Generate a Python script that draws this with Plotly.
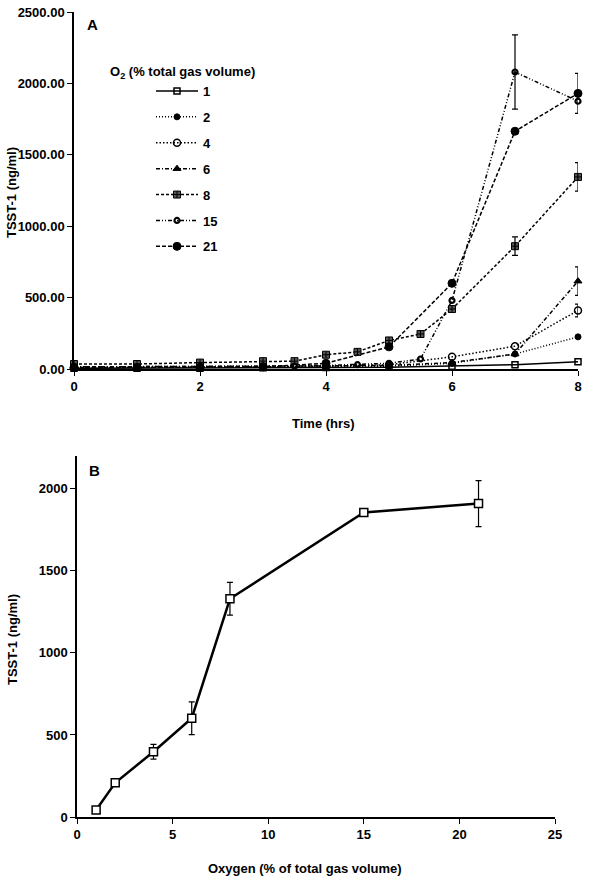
import plotly.graph_objects as go

# ---------------- Data ----------------
t_hourly = [0, 1, 2, 3, 4, 5, 6, 7, 8]
t_half = [0, 1, 2, 3, 3.5, 4, 4.5, 5, 5.5, 6, 7, 8]

o2_1 = [5, 5, 5, 8, 10, 12, 20, 30, 50]
o2_2 = [10, 10, 12, 12, 15, 20, 40, 105, 225]
o2_4 = [10, 10, 12, 15, 20, 30, 85, 160, 410]
o2_6 = [15, 15, 18, 20, 22, 25, 45, 105, 615]
o2_8 = [35, 35, 45, 55, 55, 100, 120, 200, 245, 420, 860, 1345]
o2_15 = [15, 15, 18, 20, 20, 25, 30, 40, 70, 480, 2080, 1875]
o2_21 = [10, 10, 12, 15, 40, 155, 600, 1665, 1930]

# error bars (time, value, error)
err_4 = ([8], [410], [45])
err_6 = ([8], [615], [100])
err_8 = ([7, 8], [860, 1345], [65, 100])
err_15 = ([7], [2080], [260])
err_21 = ([8], [1930], [140])

oxygen = [1, 2, 4, 6, 8, 15, 21]
tsst_b = [43, 208, 398, 602, 1330, 1856, 1910]
tsst_b_err = [0, 0, 45, 100, 100, 0, 140]

y_ticks_a = [0, 500, 1000, 1500, 2000, 2500]
x_ticks_a = [0, 2, 4, 6, 8]
y_ticks_b = [0, 500, 1000, 1500, 2000]
x_ticks_b = [0, 5, 10, 15, 20, 25]

# ---------------- Figure ----------------
W, H = 590, 886
FONT = "Liberation Sans, Arial, sans-serif"

fig = go.Figure()

series = [
    ("1", t_hourly, o2_1, "solid", "square-open", 6, 1.5, "black"),
    ("2", t_hourly, o2_2, "1px,2px", "circle", 6, 1, "black"),
    ("4", t_hourly, o2_4, "1.5px,2px", "circle-open", 7, 1.5, "black"),
    ("6", t_hourly, o2_6, "4px,2px,1px,2px", "triangle-up", 7, 1, "black"),
    ("8", t_half, o2_8, "3px,2px", "square-cross", 7, 1, "#555"),
    ("15", t_half, o2_15, "4px,2px,1px,2px,1px,2px", "circle-open", 5, 2.2, "black"),
    ("21", t_hourly, o2_21, "4px,2px", "circle", 8, 1, "black"),
]

for i, (name, xs, ys, dash, sym, size, lw, fill) in enumerate(series):
    fig.add_trace(go.Scatter(
        x=xs, y=ys, name=name, mode="lines+markers",
        line=dict(color="black", width=1.5, dash=dash),
        marker=dict(symbol=sym, size=size, color=fill,
                    line=dict(color="black", width=lw)),
        xaxis="x", yaxis="y", cliponaxis=False,
        legendgroup=name,
    ))

for ex, ey, ee in [err_4, err_6, err_8, err_15, err_21]:
    fig.add_trace(go.Scatter(
        x=ex, y=ey, mode="markers", showlegend=False,
        marker=dict(size=2, opacity=0),
        error_y=dict(type="data", array=ee, visible=True,
                     color="black", thickness=1.2, width=3),
        xaxis="x", yaxis="y", cliponaxis=False,
    ))

fig.add_trace(go.Scatter(
    x=oxygen, y=tsst_b, mode="lines+markers", showlegend=False,
    line=dict(color="black", width=2.5),
    marker=dict(symbol="square", size=8, color="white",
                line=dict(color="black", width=1.5)),
    error_y=dict(type="data", array=tsst_b_err, visible=True,
                 color="black", thickness=1.2, width=3),
    xaxis="x2", yaxis="y2", cliponaxis=False,
))

def px_x(p):
    return p / W

def px_y(p):
    return 1 - p / H

tickfont = dict(family=FONT, size=13, color="black", weight="bold")
axis_common = dict(showgrid=False, zeroline=False, showline=True,
                   linecolor="black", linewidth=1.5, ticks="outside",
                   ticklen=5, tickwidth=1.2, tickcolor="black",
                   tickfont=tickfont, automargin=False,
                   ticklabeloverflow="allow")

fig.update_layout(
    template="none",
    width=W, height=H,
    margin=dict(l=0, r=0, t=0, b=0, autoexpand=False),
    paper_bgcolor="white", plot_bgcolor="white",
    font=dict(family=FONT, color="black"),
    xaxis=dict(domain=[px_x(74), px_x(578)], range=[0, 8],
               tickvals=x_ticks_a, anchor="y", **axis_common),
    yaxis=dict(domain=[px_y(369), px_y(12)], range=[0, 2500],
               tickvals=y_ticks_a, tickformat=".2f", anchor="x",
               **axis_common),
    xaxis2=dict(domain=[px_x(77), px_x(555)], range=[0, 25],
                tickvals=x_ticks_b, anchor="y2", **axis_common),
    yaxis2=dict(domain=[px_y(817), px_y(456)], range=[0, 2200],
                tickvals=y_ticks_b, anchor="x2", **axis_common),
    legend=dict(x=px_x(151), y=px_y(76), xanchor="left", yanchor="top",
                bgcolor="rgba(0,0,0,0)", tracegroupgap=6, borderwidth=0,
                itemwidth=42,
                font=dict(family=FONT, size=13, color="black", weight="bold")),
    showlegend=True,
)

ann_font = dict(family=FONT, size=13, color="black", weight="bold")
annotations = [
    dict(text="A", x=px_x(92), y=px_y(24), font=dict(family=FONT, size=15, weight="bold")),
    dict(text="B", x=px_x(95), y=px_y(470), font=dict(family=FONT, size=15, weight="bold")),
    dict(text="O<sub>2</sub> (% total gas volume)", x=px_x(182), y=px_y(72), font=ann_font),
    dict(text="Time (hrs)", x=px_x(323), y=px_y(423), font=ann_font),
    dict(text="Oxygen (% of total gas volume)", x=px_x(305), y=px_y(868), font=ann_font),
    dict(text="TSST-1 (ng/ml)", x=px_x(12), y=px_y(193), textangle=-90, font=ann_font),
    dict(text="TSST-1 (ng/ml)", x=px_x(12), y=px_y(640), textangle=-90, font=ann_font),
]
for a in annotations:
    a.update(xref="paper", yref="paper", showarrow=False,
             xanchor="center", yanchor="middle")
fig.update_layout(annotations=annotations)

# remove the default 8px page margin so the figure fills the window exactly
fig.write_html("out.html",
               config={"displayModeBar": False},
               post_script="document.body.style.margin='0';document.body.style.overflow='hidden';")
